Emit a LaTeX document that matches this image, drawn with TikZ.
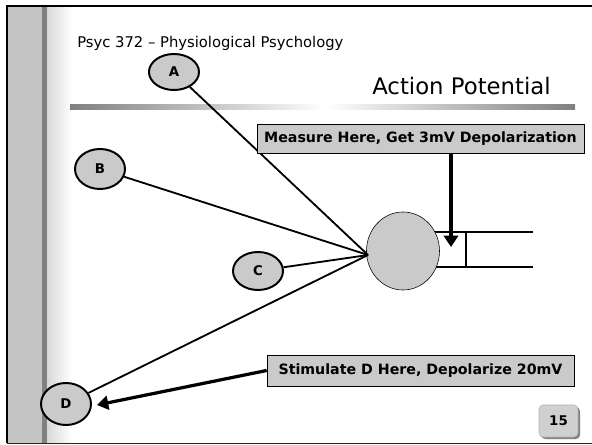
\documentclass[tikz,border=0pt]{standalone}
\usepackage{fontspec}
\setmainfont{DejaVu Sans}
\usepackage{xcolor}
\usetikzlibrary{shapes.geometric, arrows.meta, positioning, calc}
\definecolor{slidegray}{HTML}{C4C4C4}
\definecolor{boxgray}{HTML}{CACACA}

\begin{document}
\begin{tikzpicture}[x=0.025cm, y=-0.025cm, font=\fontsize{9}{11}\selectfont,
    letter/.style={ellipse, draw, line width=1.4pt, fill=boxgray, font=\fontsize{9.5}{11}\selectfont\bfseries,
      minimum width=1.25cm, minimum height=1cm, inner sep=0pt},
    wire/.style={line width=1.3pt},
    notebox/.style={rectangle, draw, thin, fill=boxgray, font=\fontsize{10}{12}\selectfont\bfseries, inner sep=0pt},
    bigarrow/.style={line width=2.3pt, -{Triangle[width=10pt, length=8pt]}}]
			\useasboundingbox (0,0) rectangle (592,445);
			% slide frame
			\fill[slidegray] (8,6) rectangle (42,443);
			\fill[gray] (42,6) rectangle (47,443);
			\shade[left color=gray!30, right color=white] (47,6) rectangle (72,443);
			\draw[gray!30!black] (7,443) -- (592,443);
			\draw[line width=2pt] (7,443) -- (7,6) -- (592,6);
			\node[anchor=base west, inner sep=0pt, font=\fontsize{10.5}{12}\selectfont] (course) at (77,48) {Psyc 372 -- Physiological Psychology};
			\node[anchor=base west, inner sep=0pt, font=\fontsize{16.2}{19}\selectfont] (title) at (372,95) {Action Potential};
			\shade[left color=gray, right color=white] (70,105) rectangle (325,110);
			\shade[left color=white, right color=gray] (325,105) rectangle (575,110);
			% axon
			\draw[line width=1.3pt] (420,232) -- (533,232);
			\draw[line width=1.3pt] (420,267) -- (533,267);
			\draw[line width=1.8pt] (466,232) -- (466,267);
			\node[ellipse, draw, thin, fill=boxgray, minimum width=1.825cm, minimum height=1.95cm] (soma) at (403,251) {};
			\coordinate (hub) at (368,255);
			\coordinate (probe) at (451,247);
			\coordinate (dtip) at (97,405);
			% inputs
			\node[letter, minimum height=0.9cm] (A) at (174,72) {A};
			\node[letter] (B) at (100,169) {B};
			\node[letter, minimum height=0.95cm] (C) at (258,271) {C};
			\node[letter, minimum height=1.05cm] (D) at (66,404) {D};
			\draw[wire] (A) -- (hub);
			\draw[wire] (B) -- (hub);
			\draw[wire] (C) -- (hub);
			\draw[wire] (D) -- (hub);
			% notes
			\node[notebox, minimum width=8.175cm, minimum height=0.725cm, font=\fontsize{10.1}{12}\selectfont\bfseries] (measure) at (420.5,138.5) {Measure Here, Get 3mV Depolarization};
			\node[notebox, minimum width=7.675cm, minimum height=0.775cm, font=\fontsize{10.1}{12}\selectfont\bfseries] (stim) at (420.5,370.5) {Stimulate D Here, Depolarize 20mV};
			\draw[bigarrow, line width=2.6pt] (measure.south -| probe) -- (probe);
			\draw[bigarrow] (stim.west) -- (dtip);
			% page number
			\fill[gray, rounded corners=3pt] (541,407) rectangle (580,439);
			\node[draw=gray!60, fill=slidegray!80, rounded corners=3pt, minimum width=0.975cm, minimum height=0.8cm,
			  font=\fontsize{9.5}{11}\selectfont\bfseries] (page) at (558.5,421) {15};
		\end{tikzpicture}
\end{document}
